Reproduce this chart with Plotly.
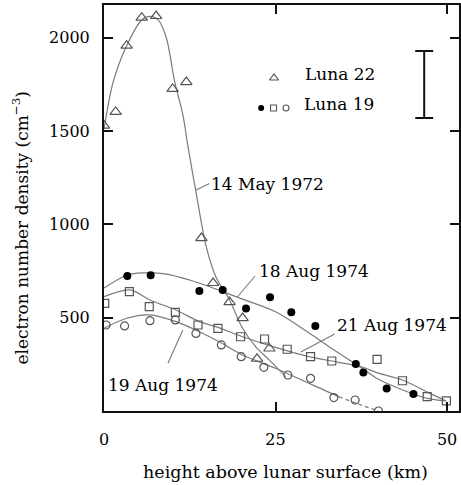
import plotly.graph_objects as go

# ---------------- data ----------------
# Luna 22, 14 May 1972 (open triangles)
l22_x = [0, 1.7, 3.3, 5.5, 7.6, 10.0, 12.0, 14.2, 15.9, 18.3, 20.2, 22.3, 24.1]
l22_y = [1530, 1603, 1958, 2108, 2117, 1726, 1763, 927, 686, 584, 498, 280, 335]
may14_cx = [0, 1.35, 3.3, 5.5, 6.7, 7.9, 9.1, 10.3, 11.5, 12.2, 13.4, 14.9, 16.3, 18.3, 20.1, 22.1, 24.1, 26.5]
may14_cy = [1510, 1765, 1958, 2096, 2115, 2096, 1998, 1765, 1587, 1426, 1175, 881, 720, 595, 450, 345, 273, 184]

# Luna 19, 18 Aug 1974 (filled circles)
a18_x = [3.4, 6.8, 13.9, 17.3, 20.7, 24.2, 27.3, 30.8, 36.7, 37.8, 41.2, 45.1]
a18_y = [724, 727, 643, 649, 550, 609, 529, 456, 252, 207, 120, 91]
a18_cx = [0, 3.4, 5.7, 9.1, 12.5, 15.4, 19.7, 25.0, 29.9, 32.8, 37.6, 40.0, 42.4, 45.1, 47.1, 49.9]
a18_cy = [659, 729, 740, 734, 702, 666, 606, 532, 418, 345, 229, 170, 130, 91, 68, 54]

# Luna 19, 21 Aug 1974 (open squares)
a21_x = [0.1, 3.7, 6.6, 10.4, 13.7, 16.6, 19.9, 23.4, 26.7, 30.1, 33.2, 39.8, 43.5, 47.1, 49.9]
a21_y = [577, 640, 559, 529, 461, 443, 398, 386, 331, 291, 268, 277, 162, 77, 54]
a21_cx = [0, 3.8, 6.7, 10.5, 13.9, 16.3, 20.2, 25.0, 29.9, 34.2, 37.6, 40.0, 43.5, 47.2, 49.8]
a21_cy = [613, 649, 595, 541, 479, 452, 398, 341, 291, 261, 236, 203, 166, 100, 55]

# Luna 19, 19 Aug 1974 (open circles)
a19_x = [0.3, 3.0, 6.7, 10.4, 13.4, 17.1, 20.0, 23.3, 26.8, 30.1, 33.5, 36.6, 40.0]
a19_y = [461, 456, 484, 488, 416, 354, 291, 234, 193, 175, 72, 59, 0]
a19_cx = [0, 3.3, 6.7, 10.5, 13.9, 16.8, 20.2, 25.0, 29.9, 34.2]
a19_cy = [443, 497, 515, 479, 425, 371, 300, 229, 148, 77]
a19_dx = [34.2, 37.0, 40.0]
a19_dy = [77, 38, 0]

x_ticks = [0, 25, 50]
y_ticks = [500, 1000, 1500, 2000]

FONT = "DejaVu Serif"
GREY = "#7a7a7a"
MK = "#555555"
INK = "#000000"

fig = go.Figure()

def curve(x, y, dash="solid"):
    fig.add_trace(go.Scatter(x=x, y=y, mode="lines", line=dict(color=GREY, width=1.2, shape="spline", smoothing=0.9, dash=dash),
                             hoverinfo="skip", showlegend=False))

curve(may14_cx, may14_cy)
curve(a18_cx, a18_cy)
curve(a21_cx, a21_cy)
curve(a19_cx, a19_cy)
curve(a19_dx, a19_dy, dash="4px,3px")

fig.add_trace(go.Scatter(x=l22_x, y=l22_y, mode="markers", showlegend=False,
                         marker=dict(symbol="triangle-up-open", size=10, color=MK, line=dict(width=1.2))))
fig.add_trace(go.Scatter(x=a21_x, y=a21_y, mode="markers", showlegend=False,
                         marker=dict(symbol="square-open", size=8, color=MK, line=dict(width=1.2))))
fig.add_trace(go.Scatter(x=a19_x, y=a19_y, mode="markers", showlegend=False,
                         marker=dict(symbol="circle-open", size=8, color=MK, line=dict(width=1.2))))
fig.add_trace(go.Scatter(x=a18_x, y=a18_y, mode="markers", showlegend=False,
                         marker=dict(symbol="circle", size=8, color="#000000")))

# legend keys on an overlay axis in [0,1] (paper-like) coordinates
L, T, W, H = 104, 5, 357, 406
def px(xp):
    return (xp - L) / W
def py(yp):
    return (T + H - yp) / H

fig.add_trace(go.Scatter(x=[px(275)], y=[py(78)], xaxis="x2", yaxis="y2", mode="markers", showlegend=False,
                         marker=dict(symbol="triangle-up-open", size=8, color=MK, line=dict(width=1.2))))
fig.add_trace(go.Scatter(x=[px(262)], y=[py(108)], xaxis="x2", yaxis="y2", mode="markers", showlegend=False,
                         marker=dict(symbol="circle", size=6, color="#000000")))
fig.add_trace(go.Scatter(x=[px(274.5)], y=[py(108)], xaxis="x2", yaxis="y2", mode="markers", showlegend=False,
                         marker=dict(symbol="square-open", size=6, color=MK, line=dict(width=1.1))))
fig.add_trace(go.Scatter(x=[px(287)], y=[py(108)], xaxis="x2", yaxis="y2", mode="markers", showlegend=False,
                         marker=dict(symbol="circle-open", size=6, color=MK, line=dict(width=1.1))))

shapes = []
# error-bar scale indicator
shapes.append(dict(type="line", xref="paper", yref="paper", x0=px(426), x1=px(426), y0=py(51), y1=py(118),
                   line=dict(color="#111", width=2)))
for yy in (51, 118):
    shapes.append(dict(type="line", xref="paper", yref="paper", x0=px(417), x1=px(435), y0=py(yy), y1=py(yy),
                       line=dict(color="#111", width=2)))
# leader lines
for (x0, y0, x1, y1) in [(196.7, 190, 210, 183.5), (238, 297, 256, 276), (302, 352, 336, 334), (168.3, 363.3, 183.3, 330)]:
    shapes.append(dict(type="line", xref="paper", yref="paper", x0=px(x0), y0=py(y0), x1=px(x1), y1=py(y1),
                       line=dict(color=GREY, width=1.1)))

ann = []
def label(text, xp, yp, size=17, **kw):
    d = dict(text=text, xref="paper", yref="paper", x=px(xp), y=py(yp), xanchor="left", yanchor="middle",
             showarrow=False, font=dict(family=FONT, size=size, color=INK))
    d.update(kw)
    ann.append(d)

label("14 May 1972", 210, 184)
label("18 Aug 1974", 258, 271)
label("21 Aug 1974", 336, 325)
label("19 Aug 1974", 106, 385)
label("Luna 22", 304, 74)
label("Luna 19", 303, 104)
ann.append(dict(text="electron number density (cm<sup>−3</sup>)", xref="paper", yref="paper", x=px(20), y=py(228),
                xanchor="center", yanchor="middle", textangle=-90, showarrow=False,
                font=dict(family=FONT, size=17, color=INK)))
ann.append(dict(text="height above lunar surface (km)", xref="paper", yref="paper", x=px(287), y=py(472),
                xanchor="center", yanchor="middle", showarrow=False,
                font=dict(family=FONT, size=17.5, color=INK)))

axis_common = dict(showgrid=False, zeroline=False, showline=True, linecolor="#111", linewidth=2,
                   mirror="allticks", ticks="inside", ticklen=9, tickwidth=2, tickcolor="#111",
                   tickfont=dict(family=FONT, size=16, color=INK))

fig.update_layout(
    width=461, height=485,
    margin=dict(l=L, r=0, t=T, b=485 - T - H, pad=0),
    paper_bgcolor="white", plot_bgcolor="white",
    showlegend=False,
    xaxis=dict(range=[0, 51.74], tickvals=x_ticks, ticklabelstandoff=13, **axis_common),
    yaxis=dict(range=[0, 2176], tickvals=y_ticks, ticklabelstandoff=9, **axis_common),
    xaxis2=dict(overlaying="x", range=[0, 1], visible=False),
    yaxis2=dict(overlaying="y", range=[0, 1], visible=False),
    shapes=shapes, annotations=ann,
)

fig.write_html("out.html")
